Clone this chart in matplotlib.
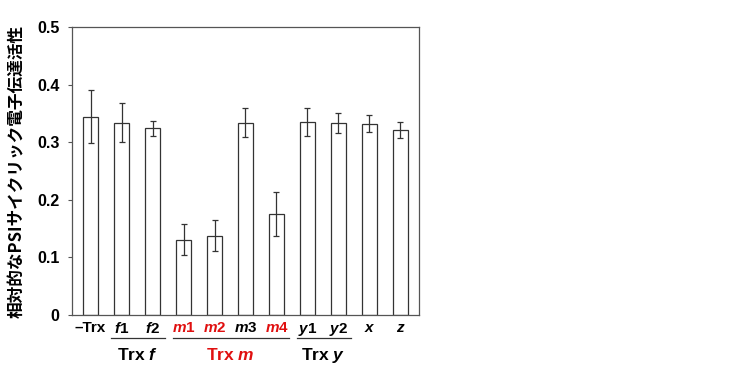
import matplotlib
matplotlib.use('Agg')
import matplotlib.pyplot as plt
from matplotlib.transforms import blended_transform_factory

plt.rcParams['font.family'] = ['Liberation Sans', 'DejaVu Sans']
plt.rcParams['mathtext.fontset'] = 'custom'
plt.rcParams['mathtext.rm'] = 'Liberation Sans:bold'
plt.rcParams['mathtext.it'] = 'Liberation Sans:bold:italic'

# data
labels = ['\u2013Trx', '$f$1', '$f$2', '$m$1', '$m$2', '$m$3', '$m$4',
          '$y$1', '$y$2', '$x$', '$z$']
values = [0.344, 0.334, 0.324, 0.131, 0.138, 0.334, 0.175, 0.335, 0.333, 0.332, 0.321]
errors = [0.046, 0.034, 0.013, 0.027, 0.027, 0.025, 0.038, 0.025, 0.017, 0.015, 0.014]
red_labels = [3, 4, 6]
groups = ['Trx $f$', 'Trx $m$', 'Trx $y$']
group_span = [(1, 2), (3, 6), (7, 8)]
group_colors = ['black', '#e01010', 'black']
yticks = [0, 0.1, 0.2, 0.3, 0.4, 0.5]

fig = plt.figure(figsize=(7.49, 3.76), dpi=100)
ax = fig.add_axes([0.0961, 0.1622, 0.4633, 0.766])

x = list(range(len(values)))
ax.bar(x, values, width=0.5, color='white', edgecolor='#333333', linewidth=0.9,
       yerr=errors, error_kw=dict(ecolor='#333333', elinewidth=0.9, capsize=2.5, capthick=0.9))

ax.set_xlim(-0.6, 10.6)
ax.set_ylim(0, 0.5)
ax.set_yticks(yticks)
ax.set_yticklabels(['0' if t == 0 else '{:.1f}'.format(t) for t in yticks],
                   fontsize=11.5, fontweight='bold')
ax.set_xticks(x)
ax.set_xticklabels(labels, fontsize=11, fontweight='bold')
for i, t in enumerate(ax.get_xticklabels()):
    if i in red_labels:
        t.set_color('#e01010')
ax.tick_params(axis='x', length=0, pad=4)
ax.tick_params(axis='y', length=3, width=0.8, color='#555555', pad=6)
for s in ax.spines.values():
    s.set_color('#555555')
    s.set_linewidth(0.9)

# group lines and labels under the tick labels
tr = blended_transform_factory(ax.transData, ax.transAxes)
for name, (a, b), c in zip(groups, group_span, group_colors):
    ax.plot([a - 0.35, b + 0.4], [-0.08, -0.08], color='#333333', lw=0.9,
            transform=tr, clip_on=False)
    ax.text((a + b) / 2 + 0.02, -0.14, name, transform=tr, ha='center', va='center',
            fontsize=12.5, fontweight='bold', color=c)

fig.text(17 / 749, 0.545, '相対的なPSIサイクリック電子伝達活性', rotation=90,
         ha='center', va='center', fontsize=12, fontweight='bold',
         family=['Noto Sans CJK JP', 'DejaVu Sans'])

fig.savefig('out.png', dpi=100)
